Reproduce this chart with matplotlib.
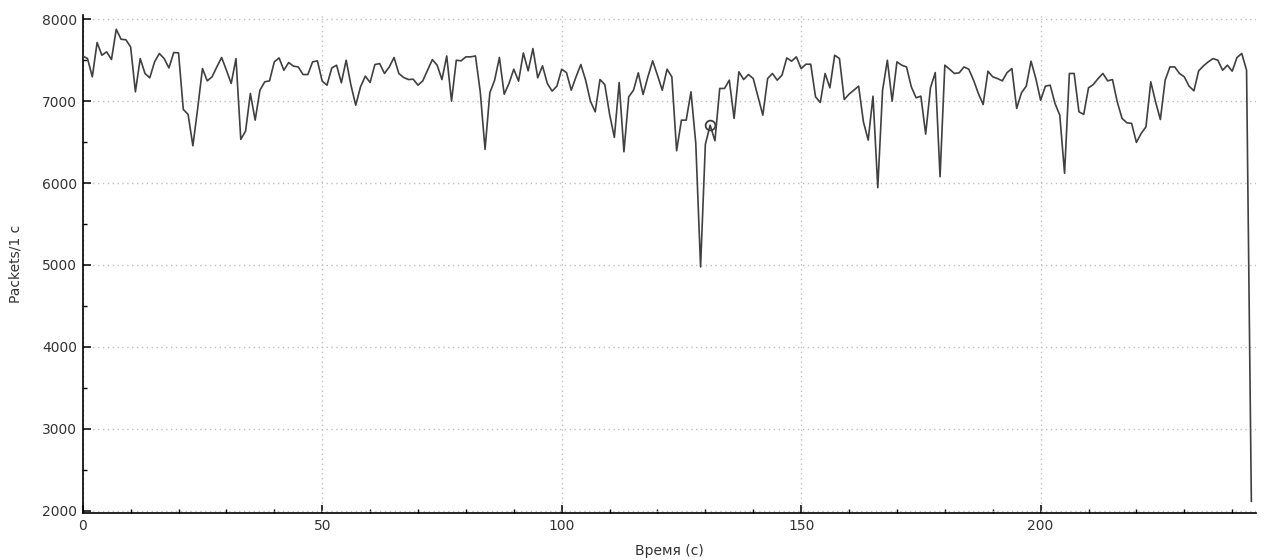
import matplotlib
matplotlib.use("Agg")
import matplotlib.pyplot as plt
from matplotlib.ticker import MultipleLocator

# Packets per second, one value per second (t = 0 .. 244)
packets = [
    7552, 7520, 7297, 7716, 7561, 7602, 7508, 7878, 7756, 7750,
    7662, 7114, 7520, 7338, 7285, 7480, 7582, 7520, 7406, 7594,
    7590, 6899, 6838, 6455, 6911, 7398, 7248, 7297, 7418, 7533,
    7378, 7216, 7520, 6533, 6634, 7094, 6768, 7134, 7236, 7248,
    7480, 7528, 7378, 7472, 7427, 7418, 7325, 7325, 7480, 7492,
    7244, 7195, 7406, 7439, 7224, 7500, 7195, 6951, 7175, 7305,
    7228, 7447, 7459, 7338, 7418, 7533, 7338, 7289, 7264, 7268,
    7195, 7248, 7378, 7508, 7439, 7264, 7552, 7000, 7500, 7492,
    7541, 7541, 7552, 7114, 6411, 7102, 7256, 7533, 7085, 7216,
    7390, 7244, 7589, 7370, 7642, 7285, 7431, 7216, 7122, 7183,
    7390, 7349, 7134, 7297, 7447, 7256, 7000, 6870, 7264, 7203,
    6841, 6557, 7228, 6382, 7053, 7134, 7346, 7081, 7297, 7492,
    7317, 7134, 7390, 7297, 6394, 6768, 6768, 7114, 6484, 4975,
    6472, 6707, 6516, 7155, 7155, 7256, 6789, 7358, 7264, 7325,
    7276, 7053, 6829, 7276, 7338, 7256, 7317, 7528, 7488, 7541,
    7398, 7451, 7451, 7053, 6984, 7338, 7163, 7561, 7520, 7020,
    7085, 7134, 7183, 6748, 6524, 7061, 5943, 7134, 7500, 7000,
    7480, 7439, 7418, 7175, 7041, 7061, 6598, 7163, 7349, 6077,
    7439, 7390, 7338, 7346, 7418, 7390, 7256, 7094, 6959, 7366,
    7297, 7276, 7248, 7349, 7398, 6911, 7102, 7183, 7488, 7276,
    7012, 7183, 7195, 6972, 6829, 6118, 7338, 7338, 6870, 6838,
    7163, 7203, 7276, 7338, 7248, 7264, 6992, 6789, 6736, 6728,
    6496, 6606, 6687, 7236, 6992, 6776, 7256, 7418, 7418, 7338,
    7297, 7183, 7126, 7370, 7431, 7480, 7520, 7500, 7378, 7439,
    7366, 7533, 7582, 7378, 2113,
]
seconds = list(range(len(packets)))
marked_index = 131

x_label = "Время (с)"
y_label = "Packets/1 с"

plt.rcParams['font.family'] = ['DejaVu Sans']

fig = plt.figure(figsize=(12.65, 5.6), dpi=100)
ax = fig.add_axes([0.0654, 0.0839, 0.9276, 0.889])

ax.plot(seconds, packets, color="#404040", linewidth=1.2, zorder=3)
ax.plot([seconds[marked_index]], [packets[marked_index]], marker="o",
        markersize=7, markerfacecolor="none", markeredgecolor="#404040",
        markeredgewidth=1.3, linestyle="none", zorder=4)

ax.set_xlim(0, 245)
ax.set_ylim(1970, 8050)
ax.xaxis.set_major_locator(MultipleLocator(50))
ax.xaxis.set_minor_locator(MultipleLocator(10))
ax.yaxis.set_major_locator(MultipleLocator(1000))
ax.yaxis.set_minor_locator(MultipleLocator(500))

ax.grid(True, which="major", color="#c0c0c0", linestyle=(0, (1, 2.5)), linewidth=1.0)
ax.set_axisbelow(True)

for side in ("top", "right"):
    ax.spines[side].set_visible(False)
for side in ("left", "bottom"):
    ax.spines[side].set_color("black")
    ax.spines[side].set_linewidth(1.2)

ax.tick_params(axis="both", which="major", direction="in", length=6, width=1.1,
               labelsize=10, labelcolor="#333333", pad=4)
ax.tick_params(axis="both", which="minor", direction="in", length=3, width=1.0)

ax.set_xlabel(x_label, fontsize=10, color="#333333", labelpad=8)
ax.set_ylabel(y_label, fontsize=10, color="#333333", labelpad=14)

fig.savefig("out.png", dpi=100, facecolor="white")
